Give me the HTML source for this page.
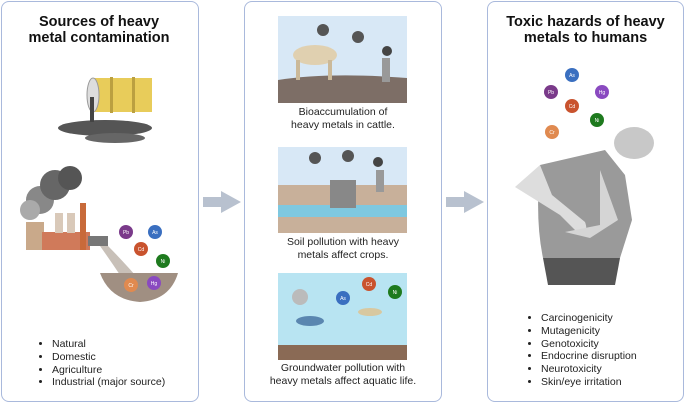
<!DOCTYPE html>
<html><head><meta charset="utf-8"><style>
body{margin:0;width:685px;height:404px;background:#fff;overflow:hidden;font-family:"Liberation Sans",sans-serif;}
.p{position:absolute;border:1.5px solid #a9b9dc;border-radius:8px;background:#fff;box-sizing:border-box;}
.t{position:absolute;font-weight:bold;font-size:14.5px;text-align:center;line-height:16px;color:#111;}
.c{position:absolute;font-size:10.5px;text-align:center;line-height:13px;color:#222;}
ul{position:absolute;margin:0;padding-left:12px;font-size:10.5px;line-height:12.8px;color:#222;}
svg{position:absolute;left:0;top:0;}
</style></head><body>
<div class="p" style="left:1px;top:1px;width:198px;height:401px"></div>
<div class="p" style="left:244px;top:1px;width:198px;height:401px"></div>
<div class="p" style="left:487px;top:1px;width:197px;height:401px"></div>
<div class="t" style="left:1px;top:14px;width:196px">Sources of heavy<br>metal contamination</div>
<div class="t" style="left:487px;top:14px;width:197px">Toxic hazards of heavy<br>metals to humans</div>
<div class="c" style="left:244px;top:106px;width:198px">Bioaccumulation of<br>heavy metals in cattle.</div>
<div class="c" style="left:244px;top:236px;width:198px">Soil pollution with heavy<br>metals affect crops.</div>
<div class="c" style="left:244px;top:362px;width:198px">Groundwater pollution with<br>heavy metals affect aquatic life.</div>
<ul style="left:40px;top:338px"><li>Natural</li><li>Domestic</li><li>Agriculture</li><li>Industrial (major source)</li></ul>
<ul style="left:529px;top:312px"><li>Carcinogenicity</li><li>Mutagenicity</li><li>Genotoxicity</li><li>Endocrine disruption</li><li>Neurotoxicity</li><li>Skin/eye irritation</li></ul>
<svg width="685" height="404" font-family="Liberation Sans" font-size="5" text-anchor="middle">
<!-- arrows -->
<polygon points="203,197 221,197 221,191 241,202 221,213 221,207 203,207" fill="#b8c1cf"/>
<polygon points="446,197 464,197 464,191 484,202 464,213 464,207 446,207" fill="#b8c1cf"/>
<!-- barrel & spill -->
<ellipse cx="105" cy="128" rx="47" ry="8" fill="#555"/>
<ellipse cx="115" cy="138" rx="30" ry="5" fill="#666"/>
<rect x="92" y="78" width="60" height="34" fill="#e8cc5a"/>
<ellipse cx="93" cy="95" rx="6" ry="17" fill="#ddd" stroke="#999"/>
<rect x="110" y="77" width="3" height="36" fill="#bba040"/><rect x="132" y="77" width="3" height="36" fill="#bba040"/>
<rect x="90" y="97" width="4" height="25" fill="#444"/>
<!-- factory -->
<circle cx="40" cy="200" r="14" fill="#888"/><circle cx="55" cy="185" r="15" fill="#666"/><circle cx="70" cy="178" r="12" fill="#555"/><circle cx="30" cy="210" r="10" fill="#aaa"/>
<rect x="26" y="222" width="18" height="28" fill="#c9a98a"/>
<rect x="42" y="232" width="48" height="18" fill="#d07a5a"/>
<rect x="55" y="213" width="8" height="20" fill="#d9c9b9"/><rect x="67" y="213" width="8" height="20" fill="#d9c9b9"/>
<rect x="80" y="203" width="6" height="47" fill="#c86a3a"/>
<rect x="88" y="236" width="20" height="10" fill="#777"/>
<path d="M100 246 Q110 260 120 275 L135 275 Q120 258 108 246Z" fill="#c8c0b8"/>
<path d="M100 273 L178 273 Q170 300 140 302 Q110 300 100 273Z" fill="#a08f82"/>
<g font-size="5" fill="#fff">
<circle cx="126" cy="232" r="7" fill="#7a3a8a"/><text x="126" y="234">Pb</text>
<circle cx="155" cy="232" r="7" fill="#3a6fc0"/><text x="155" y="234">As</text>
<circle cx="141" cy="249" r="7" fill="#c9532e"/><text x="141" y="251">Cd</text>
<circle cx="163" cy="261" r="7" fill="#1e7a1e"/><text x="163" y="263">Ni</text>
<circle cx="131" cy="285" r="7" fill="#e08a50"/><text x="131" y="287">Cr</text>
<circle cx="154" cy="283" r="7" fill="#8a4ac0"/><text x="154" y="285">Hg</text>
</g>
<!-- image1 -->
<rect x="278" y="16" width="129" height="87" fill="#d8e8f6"/>
<path d="M278 80 Q330 72 407 78 L407 103 L278 103Z" fill="#7d6e66"/>
<ellipse cx="315" cy="55" rx="22" ry="10" fill="#e0d0b0"/><rect x="296" y="60" width="4" height="20" fill="#cbb999"/><rect x="328" y="60" width="4" height="20" fill="#cbb999"/>
<rect x="382" y="58" width="8" height="24" fill="#999"/>
<circle cx="323" cy="30" r="6" fill="#555"/><circle cx="358" cy="37" r="6" fill="#555"/><circle cx="387" cy="51" r="5" fill="#444"/>
<!-- image2 -->
<rect x="278" y="147" width="129" height="86" fill="#d8e8f6"/>
<rect x="278" y="185" width="129" height="48" fill="#c8b09a"/>
<rect x="278" y="205" width="129" height="12" fill="#7ec8e0"/>
<rect x="330" y="180" width="26" height="28" fill="#888"/>
<rect x="376" y="170" width="8" height="22" fill="#999"/>
<circle cx="315" cy="158" r="6" fill="#555"/><circle cx="348" cy="156" r="6" fill="#555"/><circle cx="378" cy="162" r="5" fill="#444"/>
<!-- image3 -->
<rect x="278" y="273" width="129" height="87" fill="#b8e4f2"/>
<rect x="278" y="345" width="129" height="15" fill="#8a6a55"/>
<ellipse cx="310" cy="321" rx="14" ry="5" fill="#5a86b0"/><ellipse cx="370" cy="312" rx="12" ry="4" fill="#d8c8a0"/>
<circle cx="300" cy="297" r="8" fill="#bbb"/>
<g fill="#fff"><circle cx="343" cy="298" r="7" fill="#3a6fc0"/><text x="343" y="300">As</text>
<circle cx="369" cy="284" r="7" fill="#c9532e"/><text x="369" y="286">Cd</text>
<circle cx="395" cy="292" r="7" fill="#1e7a1e"/><text x="395" y="294">Ni</text></g>
<!-- person -->
<g fill="#fff">
<circle cx="572" cy="75" r="7" fill="#3a6fc0"/><text x="572" y="77">As</text>
<circle cx="551" cy="92" r="7" fill="#7a3a8a"/><text x="551" y="94">Pb</text>
<circle cx="602" cy="92" r="7" fill="#8a4ac0"/><text x="602" y="94">Hg</text>
<circle cx="572" cy="106" r="7" fill="#c9532e"/><text x="572" y="108">Cd</text>
<circle cx="597" cy="120" r="7" fill="#1e7a1e"/><text x="597" y="122">Ni</text>
<circle cx="552" cy="132" r="7" fill="#e08a50"/><text x="552" y="134">Cr</text>
</g>
<ellipse cx="634" cy="143" rx="20" ry="16" fill="#c8c8c8"/>
<path d="M540 165 L605 150 L625 175 L632 220 L620 258 L543 258 Q535 220 540 165Z" fill="#9a9a9a"/>
<path d="M540 165 L515 187 L560 215 L575 230 Q590 235 585 222 L552 195Z" fill="#ddd"/>
<path d="M600 170 L618 220 L590 238 L565 232 L600 225Z" fill="#d5d5d5"/>
<path d="M543 258 L620 258 L615 285 L548 285Z" fill="#555"/>
</svg>
</body></html>
